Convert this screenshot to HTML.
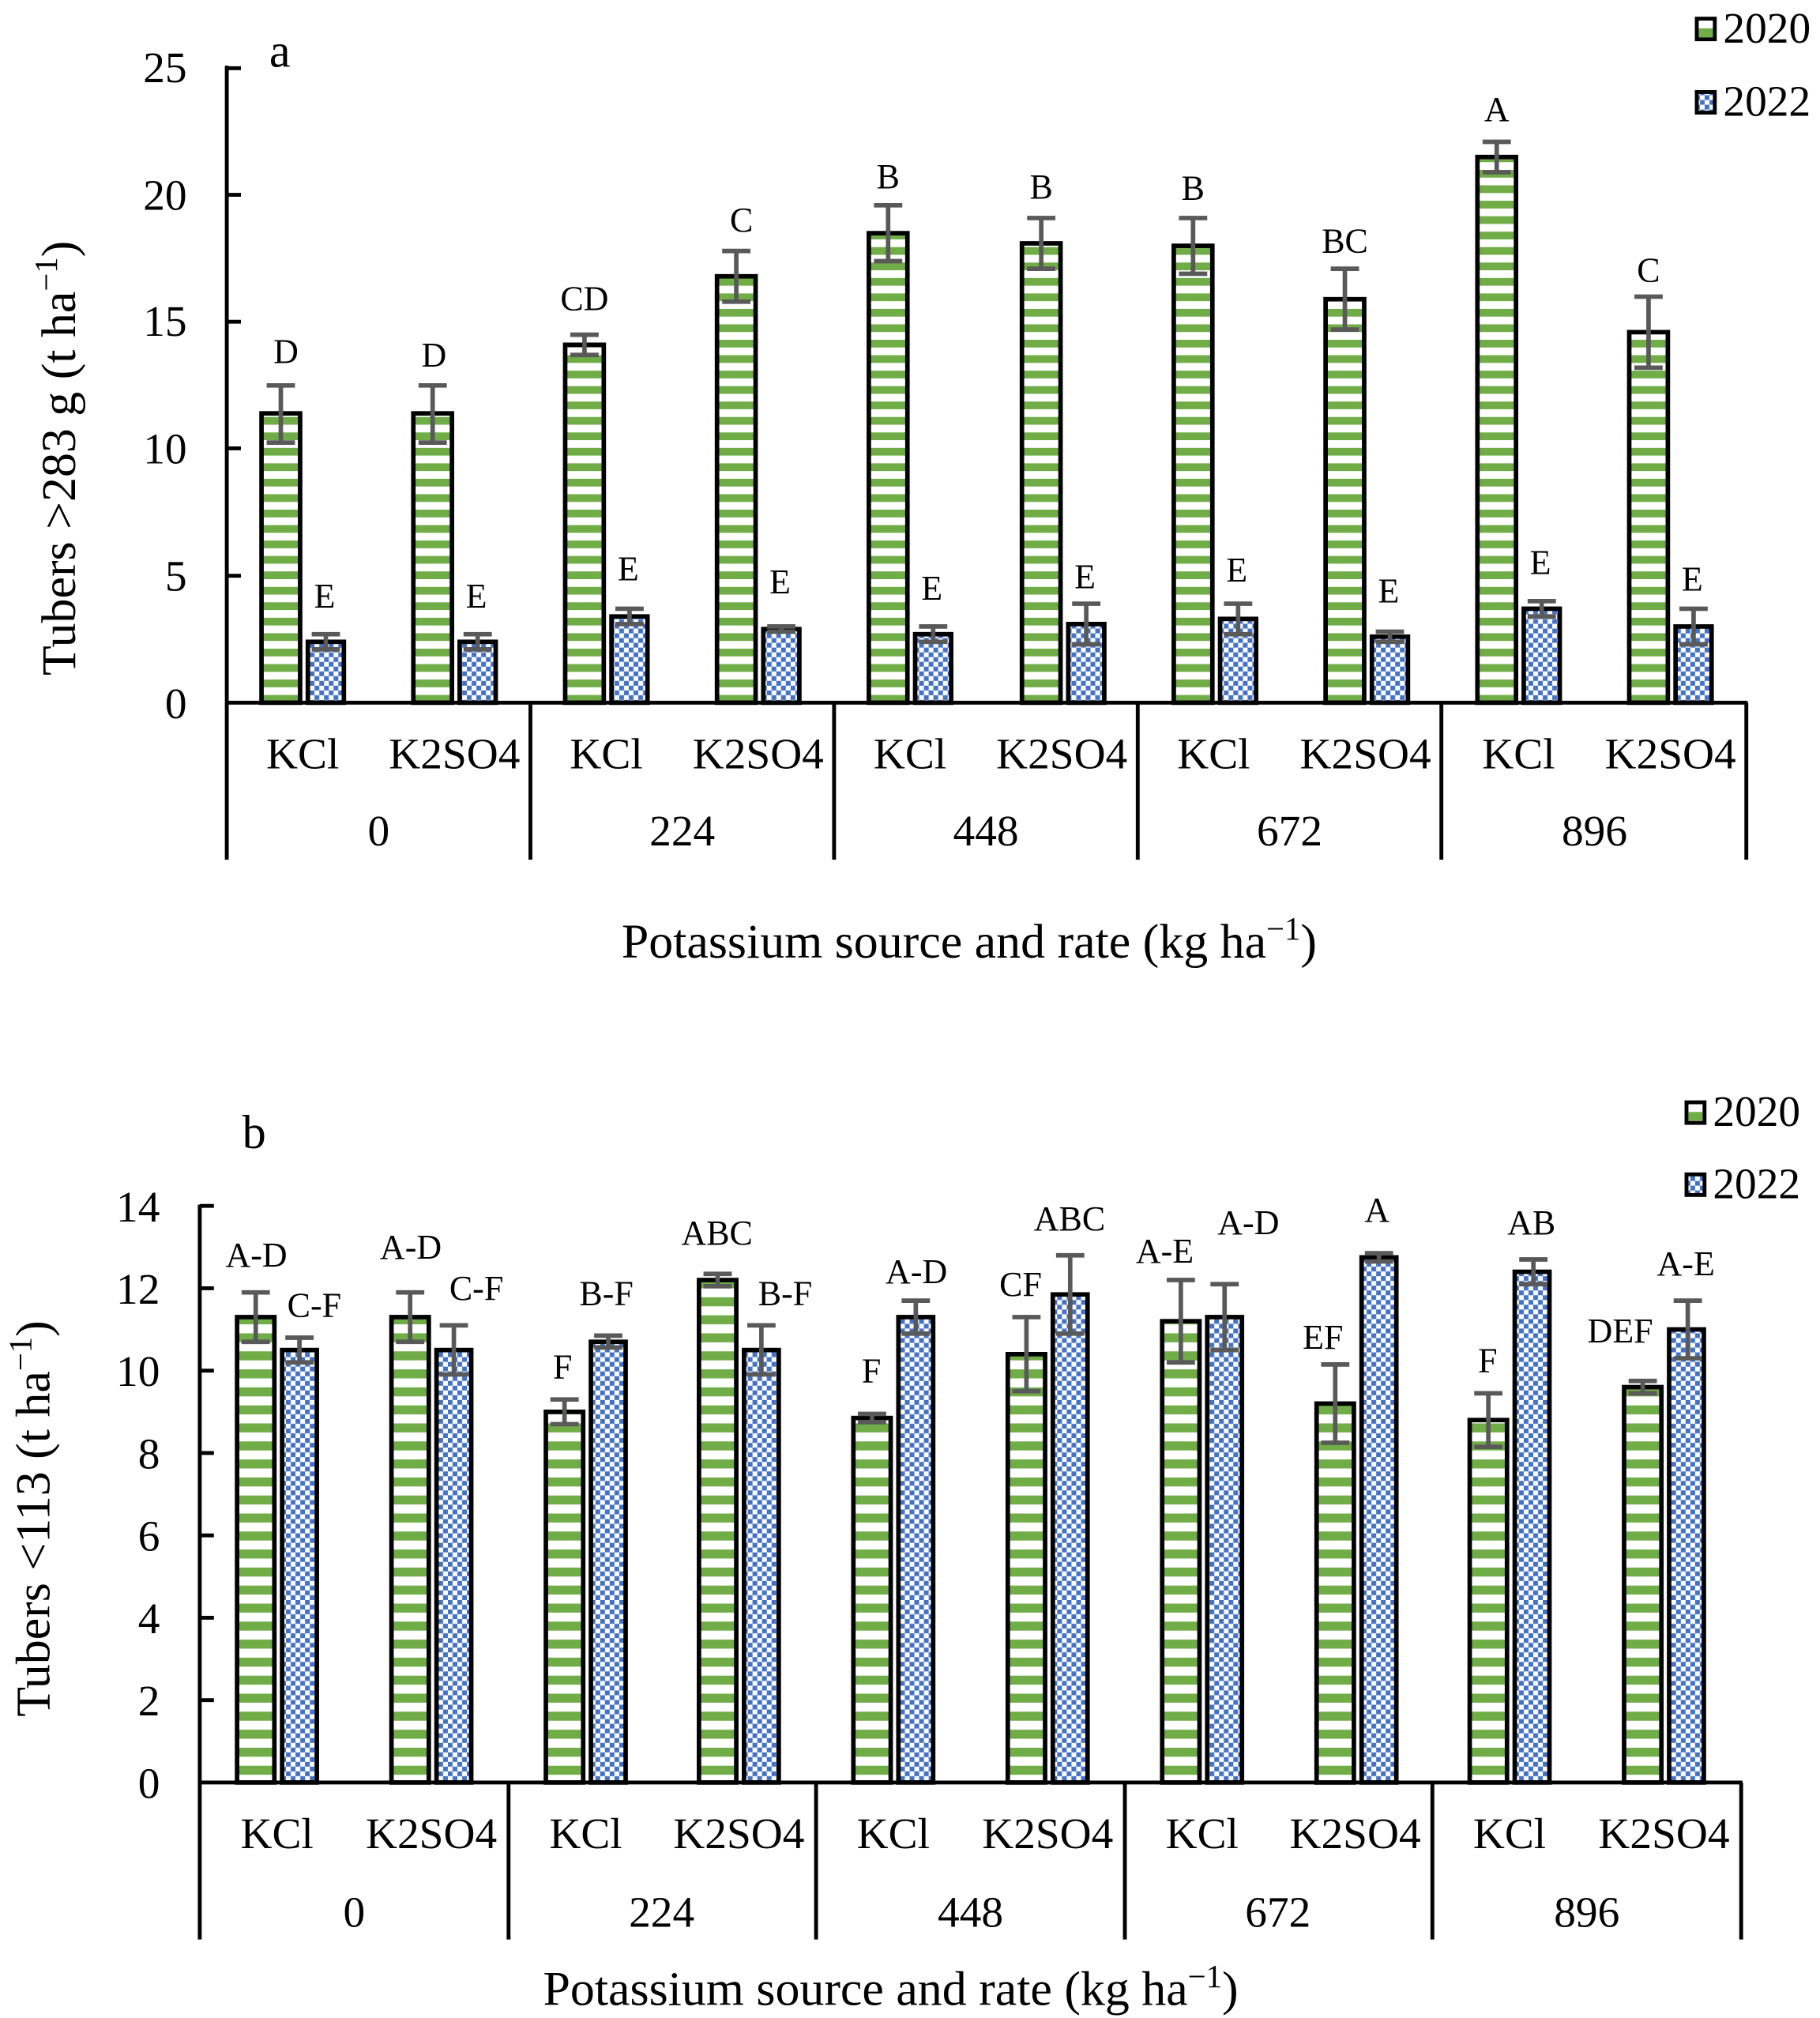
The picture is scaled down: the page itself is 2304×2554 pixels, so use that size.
<!DOCTYPE html>
<html><head><meta charset="utf-8"><style>html,body{margin:0;padding:0;background:#fff}svg{display:block}svg text{font-family:"Liberation Serif","Times New Roman",serif}</style></head>
<body>
<svg width="2304" height="2554" viewBox="0 0 1414 1568" xmlns="http://www.w3.org/2000/svg" style="font-family:'Liberation Serif',serif">
<defs>
<pattern id="ga" patternUnits="userSpaceOnUse" width="10" height="12"><rect width="10" height="12" fill="#fff"/><rect y="0" width="10" height="6" fill="#70AD47"/></pattern>
<pattern id="gb" patternUnits="userSpaceOnUse" width="10" height="14"><rect width="10" height="14" fill="#fff"/><rect y="0" width="10" height="7" fill="#70AD47"/></pattern>
<pattern id="bl" patternUnits="userSpaceOnUse" width="7.4" height="7.4"><rect width="7.4" height="7.4" fill="#fff"/><rect width="3.7" height="3.7" fill="#4472C4"/><rect x="3.7" y="3.7" width="3.7" height="3.7" fill="#4472C4"/></pattern>
</defs>

<!-- ===== Chart a ===== -->
<text x="209" y="52" font-size="37">a</text>
<g stroke="#000" stroke-width="3" fill="none">
<line x1="176" y1="51" x2="176" y2="668"/>
<line x1="175" y1="546" x2="1358" y2="546"/>
<line x1="176" y1="53" x2="187" y2="53"/><line x1="176" y1="151.4" x2="187" y2="151.4"/><line x1="176" y1="250" x2="187" y2="250"/><line x1="176" y1="348.4" x2="187" y2="348.4"/><line x1="176" y1="447.4" x2="187" y2="447.4"/>
<line x1="412" y1="546" x2="412" y2="668"/><line x1="648" y1="546" x2="648" y2="668"/><line x1="884" y1="546" x2="884" y2="668"/><line x1="1120" y1="546" x2="1120" y2="668"/><line x1="1357" y1="546" x2="1357" y2="668"/>
</g>
<g font-size="34" text-anchor="end">
<text x="145" y="64">25</text><text x="145" y="163">20</text><text x="145" y="261">15</text><text x="145" y="360">10</text><text x="145" y="459">5</text><text x="145" y="558">0</text>
</g>
<text transform="translate(58,356) rotate(-90)" font-size="38" text-anchor="middle">Tubers &gt;283 g (t ha<tspan dy="-14" font-size="25">−1</tspan><tspan dy="14">)</tspan></text>
<g font-size="34" text-anchor="middle">
<text x="235" y="597">KCl</text><text x="353" y="597">K2SO4</text>
<text x="471" y="597">KCl</text><text x="589" y="597">K2SO4</text>
<text x="707" y="597">KCl</text><text x="825" y="597">K2SO4</text>
<text x="943" y="597">KCl</text><text x="1061" y="597">K2SO4</text>
<text x="1180" y="597">KCl</text><text x="1298" y="597">K2SO4</text>
<text x="294" y="657">0</text><text x="530" y="657">224</text><text x="766" y="657">448</text><text x="1002" y="657">672</text><text x="1239" y="657">896</text>
</g>
<text x="753" y="744" font-size="38" text-anchor="middle">Potassium source and rate (kg ha<tspan dy="-14" font-size="25">−1</tspan><tspan dy="14">)</tspan></text>

<g stroke="#000" stroke-width="3.5">
<rect x="203" y="321.2" width="30" height="224.8" fill="url(#ga)"/><rect x="239" y="498.7" width="28" height="47.3" fill="url(#bl)"/>
<rect x="321" y="321.2" width="30" height="224.8" fill="url(#ga)"/><rect x="357" y="498.7" width="28" height="47.3" fill="url(#bl)"/>
<rect x="439" y="267.9" width="30" height="278.1" fill="url(#ga)"/><rect x="475" y="479" width="28" height="67" fill="url(#bl)"/>
<rect x="557" y="214.7" width="30" height="331.3" fill="url(#ga)"/><rect x="593" y="488.8" width="28" height="57.2" fill="url(#bl)"/>
<rect x="675" y="181.2" width="30" height="364.8" fill="url(#ga)"/><rect x="711" y="492.8" width="28" height="53.2" fill="url(#bl)"/>
<rect x="794" y="189.1" width="30" height="356.9" fill="url(#ga)"/><rect x="830" y="484.9" width="28" height="61.1" fill="url(#bl)"/>
<rect x="912" y="191" width="30" height="355" fill="url(#ga)"/><rect x="948" y="480.9" width="28" height="65.1" fill="url(#bl)"/>
<rect x="1030" y="232.5" width="30" height="313.5" fill="url(#ga)"/><rect x="1066" y="494.7" width="28" height="51.3" fill="url(#bl)"/>
<rect x="1148" y="122" width="30" height="424" fill="url(#ga)"/><rect x="1184" y="473" width="28" height="73" fill="url(#bl)"/>
<rect x="1266" y="258.1" width="30" height="287.9" fill="url(#ga)"/><rect x="1302" y="486.8" width="28" height="59.2" fill="url(#bl)"/>
</g>
<g stroke="#595959" stroke-width="3.5">
<path d="M218 343.9V299.5M207 343.9h22M207 299.5h22"/><path d="M253 504.6V492.8M242 504.6h22M242 492.8h22"/>
<path d="M336 343.9V299.5M325 343.9h22M325 299.5h22"/><path d="M371 504.6V492.8M360 504.6h22M360 492.8h22"/>
<path d="M454 275.8V260.1M443 275.8h22M443 260.1h22"/><path d="M489 484.9V473M478 484.9h22M478 473h22"/>
<path d="M572 234.4V195M561 234.4h22M561 195h22"/><path d="M607 490.8V486.8M596 490.8h22M596 486.8h22"/>
<path d="M690 202.9V159.5M679 202.9h22M679 159.5h22"/><path d="M725 498.7V486.8M714 498.7h22M714 486.8h22"/>
<path d="M809 208.8V169.4M798 208.8h22M798 169.4h22"/><path d="M844 500.6V469.1M833 500.6h22M833 469.1h22"/>
<path d="M927 212.7V169.4M916 212.7h22M916 169.4h22"/><path d="M962 492.8V469.1M951 492.8h22M951 469.1h22"/>
<path d="M1045 256.1V208.8M1034 256.1h22M1034 208.8h22"/><path d="M1080 498.7V490.8M1069 498.7h22M1069 490.8h22"/>
<path d="M1163 133.8V110.2M1152 133.8h22M1152 110.2h22"/><path d="M1198 479V467.1M1187 479h22M1187 467.1h22"/>
<path d="M1281 285.7V230.5M1270 285.7h22M1270 230.5h22"/><path d="M1316 500.6V473M1305 500.6h22M1305 473h22"/>
</g>
<g font-size="27" text-anchor="middle">
<text x="222" y="282">D</text><text x="252" y="472">E</text>
<text x="337" y="285">D</text><text x="370" y="472">E</text>
<text x="454" y="241">CD</text><text x="488" y="451">E</text>
<text x="576" y="180">C</text><text x="606" y="461">E</text>
<text x="690" y="146">B</text><text x="724" y="466">E</text>
<text x="809" y="154">B</text><text x="843" y="457">E</text>
<text x="927" y="155">B</text><text x="961" y="452">E</text>
<text x="1045" y="196">BC</text><text x="1079" y="468">E</text>
<text x="1163" y="94">A</text><text x="1197" y="446">E</text>
<text x="1281" y="219">C</text><text x="1315" y="459">E</text>
</g>
<rect x="1318.5" y="14.5" width="14" height="16" fill="#fff" stroke="#000" stroke-width="3"/><rect x="1320" y="22" width="11" height="7" fill="#70AD47"/>
<text x="1339" y="33" font-size="34">2020</text>
<rect x="1318.5" y="71.5" width="14" height="16" fill="url(#bl)" stroke="#000" stroke-width="3"/>
<text x="1339" y="90" font-size="34">2022</text>

<!-- ===== Chart b ===== -->
<text x="188" y="892" font-size="37">b</text>
<g stroke="#000" stroke-width="3" fill="none">
<line x1="155" y1="936" x2="155" y2="1507"/>
<line x1="154" y1="1385" x2="1354" y2="1385"/>
<line x1="155" y1="937" x2="166" y2="937"/><line x1="155" y1="1001" x2="166" y2="1001"/><line x1="155" y1="1065" x2="166" y2="1065"/><line x1="155" y1="1129" x2="166" y2="1129"/><line x1="155" y1="1193" x2="166" y2="1193"/><line x1="155" y1="1257" x2="166" y2="1257"/><line x1="155" y1="1321" x2="166" y2="1321"/>
<line x1="395" y1="1385" x2="395" y2="1507"/><line x1="634" y1="1385" x2="634" y2="1507"/><line x1="874" y1="1385" x2="874" y2="1507"/><line x1="1113" y1="1385" x2="1113" y2="1507"/><line x1="1353" y1="1385" x2="1353" y2="1507"/>
</g>
<g font-size="34" text-anchor="end">
<text x="124" y="949">14</text><text x="124" y="1013">12</text><text x="124" y="1077">10</text><text x="124" y="1141">8</text><text x="124" y="1205">6</text><text x="124" y="1269">4</text><text x="124" y="1333">2</text><text x="124" y="1397">0</text>
</g>
<text transform="translate(38,1180) rotate(-90)" font-size="38" text-anchor="middle">Tubers &lt;113 (t ha<tspan dy="-14" font-size="25">−1</tspan><tspan dy="14">)</tspan></text>
<g font-size="34" text-anchor="middle">
<text x="215" y="1436">KCl</text><text x="335" y="1436">K2SO4</text>
<text x="455" y="1436">KCl</text><text x="574" y="1436">K2SO4</text>
<text x="694" y="1436">KCl</text><text x="814" y="1436">K2SO4</text>
<text x="934" y="1436">KCl</text><text x="1053" y="1436">K2SO4</text>
<text x="1173" y="1436">KCl</text><text x="1293" y="1436">K2SO4</text>
<text x="275" y="1497">0</text><text x="514" y="1497">224</text><text x="754" y="1497">448</text><text x="993" y="1497">672</text><text x="1233" y="1497">896</text>
</g>
<text x="692" y="1558" font-size="38" text-anchor="middle">Potassium source and rate (kg ha<tspan dy="-14" font-size="25">−1</tspan><tspan dy="14">)</tspan></text>

<g stroke="#000" stroke-width="3.5">
<rect x="184" y="1023.4" width="29" height="361.6" fill="url(#gb)"/><rect x="219" y="1049" width="27" height="336" fill="url(#bl)"/>
<rect x="304" y="1023.4" width="29" height="361.6" fill="url(#gb)"/><rect x="339" y="1049" width="27" height="336" fill="url(#bl)"/>
<rect x="424" y="1097" width="29" height="288" fill="url(#gb)"/><rect x="459" y="1042.6" width="27" height="342.4" fill="url(#bl)"/>
<rect x="543" y="994.6" width="29" height="390.4" fill="url(#gb)"/><rect x="578" y="1049" width="27" height="336" fill="url(#bl)"/>
<rect x="663" y="1101.8" width="29" height="283.2" fill="url(#gb)"/><rect x="698" y="1023.4" width="27" height="361.6" fill="url(#bl)"/>
<rect x="783" y="1052.2" width="29" height="332.8" fill="url(#gb)"/><rect x="818" y="1005.8" width="27" height="379.2" fill="url(#bl)"/>
<rect x="903" y="1026.6" width="29" height="358.4" fill="url(#gb)"/><rect x="938" y="1023.4" width="27" height="361.6" fill="url(#bl)"/>
<rect x="1023" y="1090.6" width="29" height="294.4" fill="url(#gb)"/><rect x="1058" y="977" width="27" height="408" fill="url(#bl)"/>
<rect x="1142" y="1103.4" width="29" height="281.6" fill="url(#gb)"/><rect x="1177" y="988.2" width="27" height="396.8" fill="url(#bl)"/>
<rect x="1262" y="1077.8" width="29" height="307.2" fill="url(#gb)"/><rect x="1297" y="1033" width="27" height="352" fill="url(#bl)"/>
</g>
<g stroke="#595959" stroke-width="3.5">
<path d="M198.5 1042.6V1004.2M187.5 1042.6h22M187.5 1004.2h22"/><path d="M232.5 1058.6V1039.4M221.5 1058.6h22M221.5 1039.4h22"/>
<path d="M318.5 1042.6V1004.2M307.5 1042.6h22M307.5 1004.2h22"/><path d="M352.5 1068V1029.8M341.5 1068h22M341.5 1029.8h22"/>
<path d="M438.5 1106.6V1087.4M427.5 1106.6h22M427.5 1087.4h22"/><path d="M472.5 1047V1037.8M461.5 1047h22M461.5 1037.8h22"/>
<path d="M557.5 999.4V989.8M546.5 999.4h22M546.5 989.8h22"/><path d="M591.5 1068V1029.8M580.5 1068h22M580.5 1029.8h22"/>
<path d="M677.5 1105V1098.6M666.5 1105h22M666.5 1098.6h22"/><path d="M711.5 1036.2V1010.6M700.5 1036.2h22M700.5 1010.6h22"/>
<path d="M797.5 1081V1023.4M786.5 1081h22M786.5 1023.4h22"/><path d="M831.5 1036.2V975.4M820.5 1036.2h22M820.5 975.4h22"/>
<path d="M917.5 1058.6V994.6M906.5 1058.6h22M906.5 994.6h22"/><path d="M951.5 1049V997.8M940.5 1049h22M940.5 997.8h22"/>
<path d="M1037.5 1121V1060.2M1026.5 1121h22M1026.5 1060.2h22"/><path d="M1071.5 980.2V973.8M1060.5 980.2h22M1060.5 973.8h22"/>
<path d="M1156.5 1124.2V1082.6M1145.5 1124.2h22M1145.5 1082.6h22"/><path d="M1191.5 997.8V978.6M1180.5 997.8h22M1180.5 978.6h22"/>
<path d="M1276.5 1082.6V1073M1265.5 1082.6h22M1265.5 1073h22"/><path d="M1311.5 1055.4V1010.6M1300.5 1055.4h22M1300.5 1010.6h22"/>
</g>
<g font-size="27" text-anchor="middle">
<text x="199" y="984">A-D</text><text x="244" y="1023">C-F</text>
<text x="319" y="978">A-D</text><text x="370" y="1010">C-F</text>
<text x="437" y="1071">F</text><text x="471" y="1014">B-F</text>
<text x="557" y="967">ABC</text><text x="610" y="1014">B-F</text>
<text x="677" y="1074">F</text><text x="712" y="997">A-D</text>
<text x="793" y="1007">CF</text><text x="831" y="956">ABC</text>
<text x="905" y="981">A-E</text><text x="970" y="959">A-D</text>
<text x="1028" y="1048">EF</text><text x="1070" y="949">A</text>
<text x="1156" y="1066">F</text><text x="1190" y="959">AB</text>
<text x="1259" y="1043">DEF</text><text x="1310" y="991">A-E</text>
</g>
<rect x="1310.5" y="856.5" width="14" height="16" fill="#fff" stroke="#000" stroke-width="3"/><rect x="1312" y="864" width="11" height="7" fill="#70AD47"/>
<text x="1331" y="875" font-size="34">2020</text>
<rect x="1310.5" y="912.5" width="14" height="16" fill="url(#bl)" stroke="#000" stroke-width="3"/>
<text x="1331" y="931" font-size="34">2022</text>
</svg>
</body></html>
